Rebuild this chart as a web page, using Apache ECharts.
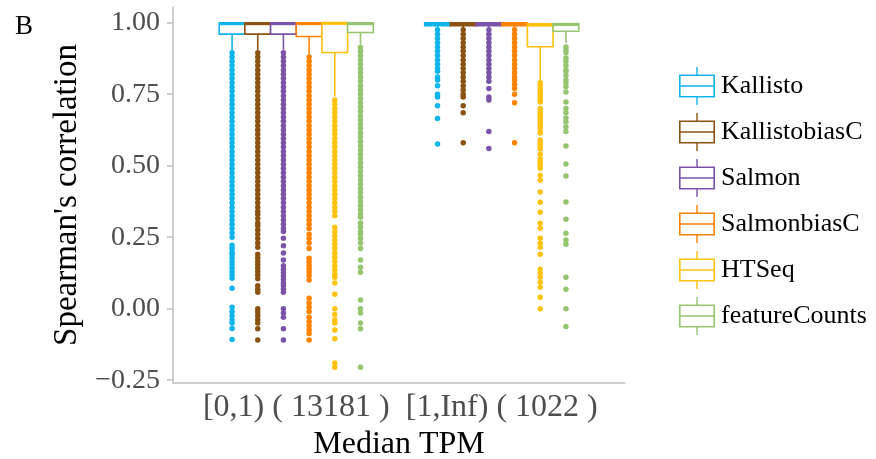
<!DOCTYPE html>
<html>
<head>
<meta charset="utf-8">
<script src="https://cdn.jsdelivr.net/npm/echarts@6/dist/echarts.min.js"></script>
<style>
html, body { margin: 0; padding: 0; background: #fff; }
#chart { width: 876px; height: 459px; }
</style>
</head>
<body>
<div id="chart"></div>
<script>
var metodos = ['Kallisto', 'KallistobiasC', 'Salmon', 'SalmonbiasC', 'HTSeq', 'featureCounts'];
var colores = ['#10B4EA', '#8B5211', '#7A53A8', '#FF8200', '#FFC20E', '#96C56F'];
var xLabels = ['[0,1) ( 13181 )', '[1,Inf) ( 1022 )'];
var yTicks = [-0.25, 0, 0.25, 0.5, 0.75, 1];

// [min, Q1, mediana, Q3, max] por metodo
var cajasBajo = [
  [0.905, 0.960, 0.997, 1.0, 1.0],
  [0.905, 0.960, 0.997, 1.0, 1.0],
  [0.905, 0.960, 0.997, 1.0, 1.0],
  [0.891, 0.952, 0.997, 1.0, 1.0],
  [0.742, 0.896, 0.998, 1.0, 1.0],
  [0.923, 0.966, 0.997, 1.0, 1.0]
];
var cajasAlto = [
  [0.982, 0.990, 0.997, 1.0, 1.0],
  [0.982, 0.990, 0.997, 1.0, 1.0],
  [0.982, 0.990, 0.997, 1.0, 1.0],
  [0.980, 0.990, 0.997, 1.0, 1.0],
  [0.800, 0.916, 0.992, 0.996, 1.0],
  [0.930, 0.970, 0.994, 0.996, 1.0]
];

// outliers, grupo [0,1)
var outBajo = [
  [0.895,0.88,0.865,0.85,0.835,0.82,0.805,0.79,0.775,0.76,0.745,0.73,0.715,0.70,0.685,0.67,0.655,0.64,0.625,0.61,
   0.595,0.58,0.565,0.55,0.535,0.52,0.505,0.49,0.475,0.46,0.445,0.43,0.415,0.40,0.385,0.37,0.355,0.34,0.325,0.31,
   0.295,0.28,0.265,0.25,0.222,0.21,0.197,0.19,0.178,0.166,0.154,0.142,0.13,0.118,0.106,0.071,
   0.005,-0.01,-0.025,-0.04,-0.05,-0.069,-0.108],
  [0.895,0.88,0.865,0.85,0.835,0.82,0.805,0.79,0.775,0.76,0.745,0.73,0.715,0.70,0.685,0.67,0.655,0.64,0.625,0.61,
   0.595,0.58,0.565,0.55,0.535,0.52,0.505,0.49,0.475,0.46,0.445,0.43,0.415,0.40,0.385,0.37,
   0.355,0.34,0.33,0.315,0.30,0.29,0.275,0.26,0.245,0.23,0.215,0.19,0.178,0.166,0.154,0.142,0.13,0.118,0.105,
   0.08,0.068,0.057,0.0,-0.012,-0.025,-0.038,-0.05,-0.07,-0.11],
  [0.895,0.88,0.865,0.85,0.835,0.82,0.805,0.79,0.775,0.76,0.745,0.73,0.715,0.70,0.685,0.67,0.655,0.64,0.625,0.61,
   0.595,0.58,0.565,0.55,0.535,0.52,0.505,0.49,0.475,0.46,0.445,0.43,0.415,0.40,0.385,0.37,0.355,0.34,0.325,0.31,
   0.295,0.28,0.27,0.246,0.22,0.195,0.17,0.15,0.138,0.126,0.114,0.102,0.09,0.08,0.068,0.057,
   0.0,-0.015,-0.03,-0.07,-0.11],
  [0.88,0.865,0.85,0.835,0.82,0.805,0.79,0.775,0.76,0.745,0.73,0.715,0.70,0.685,0.67,0.655,0.64,0.625,0.61,
   0.595,0.58,0.565,0.55,0.535,0.52,0.505,0.49,0.475,0.46,0.445,0.43,0.415,0.40,0.385,0.37,0.355,0.34,0.325,0.31,
   0.295,0.28,0.26,0.245,0.23,0.21,0.176,0.164,0.152,0.14,0.128,0.116,0.10,0.036,0.02,0.005,-0.01,
   -0.03,-0.045,-0.06,-0.075,-0.087,-0.11],
  [0.73,0.715,0.70,0.685,0.67,0.655,0.64,0.625,0.61,0.595,0.58,0.565,0.55,0.535,0.52,0.505,0.49,0.475,0.46,
   0.445,0.43,0.415,0.40,0.385,0.37,0.355,0.34,0.325,0.285,0.27,0.255,0.24,0.225,0.21,0.195,0.18,0.165,0.15,
   0.135,0.12,0.11,0.09,0.05,0.0,-0.02,-0.04,-0.05,-0.075,-0.105,-0.19,-0.205],
  [0.913,0.9,0.885,0.87,0.855,0.84,0.825,0.81,0.795,0.78,0.765,0.75,0.735,0.72,0.705,0.69,0.675,0.66,0.645,
   0.63,0.615,0.60,0.585,0.57,0.555,0.54,0.525,0.51,0.495,0.48,0.465,0.45,0.435,0.42,0.405,0.39,0.375,0.36,
   0.345,0.33,0.32,0.30,0.285,0.27,0.26,0.245,0.23,0.21,0.17,0.145,0.127,0.03,0.0,-0.015,-0.05,-0.07,-0.205]
];

// outliers, grupo [1,Inf)
var outAlto = [
  [0.975,0.96,0.945,0.93,0.915,0.90,0.885,0.87,0.855,0.84,0.83,0.81,0.80,0.78,0.75,0.74,0.71,0.665,0.576],
  [0.975,0.96,0.945,0.93,0.915,0.90,0.885,0.87,0.855,0.84,0.825,0.81,0.795,0.78,0.765,0.75,0.74,0.71,0.685,0.58],
  [0.975,0.96,0.945,0.93,0.915,0.90,0.885,0.87,0.855,0.84,0.825,0.81,0.795,0.77,0.74,0.73,0.62,0.56],
  [0.975,0.96,0.945,0.93,0.915,0.90,0.885,0.87,0.855,0.84,0.825,0.81,0.80,0.785,0.77,0.75,0.72,0.58],
  [0.79,0.78,0.77,0.76,0.75,0.74,0.73,0.723,0.70,0.695,0.685,0.678,0.67,0.66,0.65,0.64,0.632,0.62,0.614,
   0.59,0.58,0.576,0.565,0.558,0.54,0.523,0.515,0.51,0.50,0.491,0.467,0.449,0.408,0.372,0.337,0.299,0.281,
   0.246,0.229,0.215,0.19,0.138,0.124,0.11,0.092,0.075,0.04,0.0],
  [0.915,0.905,0.895,0.877,0.865,0.85,0.835,0.83,0.815,0.80,0.79,0.776,0.758,0.723,0.70,0.685,0.667,0.653,
   0.635,0.62,0.569,0.506,0.464,0.373,0.313,0.264,0.24,0.225,0.11,0.068,0.0,-0.062]
];

var anchoCaja = 0.125; // 0.75 / 6 metodos
var fuente = 'Liberation Serif';

var iconoCaja = 'path://M17.3,0L18.7,0L18.7,8L17.3,8Z' +
  'M0,7.5L36,7.5L36,9.1L0,9.1Z' +
  'M0,28.9L36,28.9L36,30.5L0,30.5Z' +
  'M0,7.5L1.6,7.5L1.6,30.5L0,30.5Z' +
  'M34.4,7.5L36,7.5L36,30.5L34.4,30.5Z' +
  'M0,18.2L36,18.2L36,19.8L0,19.8Z' +
  'M17.3,30L18.7,30L18.7,38L17.3,38Z';

function dibujaCaja(params, api) {
  var x = api.value(0);
  var pMin = api.coord([x, api.value(1)]);
  var pQ1 = api.coord([x, api.value(2)]);
  var pMed = api.coord([x, api.value(3)]);
  var pQ3 = api.coord([x, api.value(4)]);
  var pMax = api.coord([x, api.value(5)]);
  var ancho = api.size([anchoCaja, 0])[0];
  var color = api.visual('color');
  return {
    type: 'group',
    children: [
      { type: 'line', shape: { x1: pMin[0], y1: pMin[1], x2: pQ1[0], y2: pQ1[1] }, style: { stroke: color, lineWidth: 1.6 } },
      { type: 'line', shape: { x1: pQ3[0], y1: pQ3[1], x2: pMax[0], y2: pMax[1] }, style: { stroke: color, lineWidth: 1.6 } },
      { type: 'rect', shape: { x: pQ3[0] - ancho / 2, y: pQ3[1], width: ancho, height: pQ1[1] - pQ3[1] },
        style: { fill: '#fff', stroke: color, lineWidth: 1.6 } },
      { type: 'line', shape: { x1: pMed[0] - ancho / 2, y1: pMed[1], x2: pMed[0] + ancho / 2, y2: pMed[1] },
        style: { stroke: color, lineWidth: 3.2 } }
    ]
  };
}

var series = [];
metodos.forEach(function (m, i) {
  var desplaza = (i - 2.5) * anchoCaja;
  var puntos = [];
  outBajo[i].forEach(function (v) { puntos.push([1 + desplaza, v]); });
  outAlto[i].forEach(function (v) { puntos.push([2 + desplaza, v]); });
  series.push({
    name: m,
    type: 'scatter',
    symbolSize: 5.5,
    itemStyle: { color: colores[i], opacity: 1 },
    data: puntos,
    z: 2
  });
  series.push({
    name: m,
    type: 'custom',
    renderItem: dibujaCaja,
    itemStyle: { color: colores[i] },
    encode: { x: 0, y: [1, 2, 3, 4, 5] },
    data: [[1 + desplaza].concat(cajasBajo[i]), [2 + desplaza].concat(cajasAlto[i])],
    z: 3
  });
});

var dom = document.getElementById('chart');
var myChart = echarts.init(dom, null, { renderer: 'canvas' });

var option = {
  animation: false,
  title: {
    text: 'B',
    left: 10,
    top: 8,
    textStyle: { fontFamily: fuente, fontSize: 27, fontWeight: 'normal', color: '#000' }
  },
  legend: {
    orient: 'vertical',
    left: 674,
    top: 62,
    itemWidth: 36,
    itemHeight: 38,
    itemGap: 8,
    selectedMode: false,
    data: metodos.map(function (m) { return { name: m, icon: iconoCaja }; }),
    textStyle: { fontFamily: fuente, fontSize: 26, color: '#000', padding: [0, 0, 0, 1] }
  },
  grid: { left: 173, top: 7, width: 452, height: 376, containLabel: false, outerBoundsMode: 'none' },
  xAxis: {
    type: 'value',
    min: 0.4,
    max: 2.6,
    name: 'Median TPM',
    nameLocation: 'middle',
    nameGap: 45,
    nameTextStyle: { fontFamily: fuente, fontSize: 32, color: '#000' },
    axisLine: { show: true, onZero: false, lineStyle: { color: '#BEBEBE', width: 1.5 } },
    axisTick: { show: false },
    splitLine: { show: false },
    axisLabel: {
      customValues: [1, 2],
      formatter: function (v) { return xLabels[Math.round(v) - 1]; },
      fontFamily: fuente,
      fontSize: 32,
      color: '#4D4D4D',
      margin: 9
    }
  },
  yAxis: {
    type: 'value',
    min: -0.26,
    max: 1.055,
    name: "Spearman's correlation",
    nameLocation: 'middle',
    nameGap: 89,
    nameTextStyle: { fontFamily: fuente, fontSize: 33, color: '#000' },
    axisLine: { show: true, onZero: false, lineStyle: { color: '#BEBEBE', width: 1.5 } },
    axisTick: { show: true, customValues: yTicks, length: 6, lineStyle: { color: '#BEBEBE', width: 1.5 } },
    splitLine: { show: false },
    axisLabel: {
      customValues: yTicks,
      formatter: function (v) { return (v < 0 ? '\u2212' : '') + Math.abs(v).toFixed(2); },
      fontFamily: fuente,
      fontSize: 28,
      color: '#4D4D4D',
      margin: 13
    }
  },
  series: series
};

myChart.setOption(option);
window.addEventListener('resize', myChart.resize);
</script>
</body>
</html>
